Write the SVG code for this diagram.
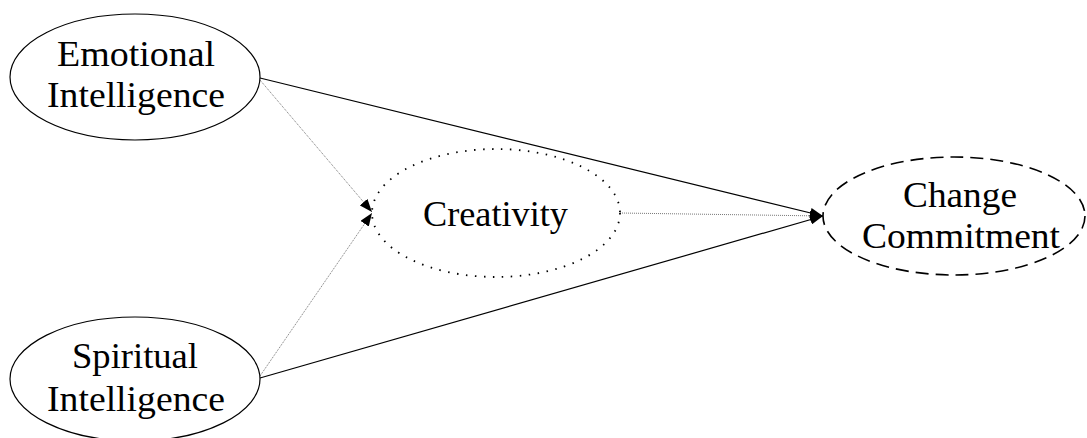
<svg xmlns="http://www.w3.org/2000/svg" width="1087" height="438" viewBox="0 0 1087 438">
<defs>
<style>
.lbl{font-family:"Liberation Serif","Times New Roman",serif;font-size:35px;fill:#000;text-anchor:middle}
.node{fill:#fff;stroke:#000}
.solid{stroke:#000;stroke-width:1.2;fill:none}
.thin{stroke:#777;stroke-width:1;stroke-dasharray:1 1;fill:none}
</style>
<marker id="arr" markerWidth="14" markerHeight="10" refX="13" refY="5" orient="auto" markerUnits="userSpaceOnUse">
<path d="M0,0 L13,5 L0,10 Z" fill="#000"/>
</marker>
</defs>
<rect width="1087" height="438" fill="#fff"/>
<g id="connectors">
<line class="solid" x1="260" y1="78" x2="823" y2="216" marker-end="url(#arr)"/>
<line class="solid" x1="260" y1="378" x2="823" y2="216" marker-end="url(#arr)"/>
<line class="thin" x1="260" y1="80" x2="372" y2="212" marker-end="url(#arr)"/>
<line class="thin" x1="260" y1="376" x2="372" y2="213" marker-end="url(#arr)"/>
<line class="thin" x1="620" y1="213" x2="823" y2="216" marker-end="url(#arr)"/>
</g>
<g id="emotional">
<ellipse class="node" cx="135" cy="77" rx="125" ry="63" stroke-width="1.2"/>
<text class="lbl" x="136" y="66" textLength="158" lengthAdjust="spacingAndGlyphs">Emotional</text>
<text class="lbl" x="136" y="107" textLength="178" lengthAdjust="spacingAndGlyphs">Intelligence</text>
</g>
<g id="spiritual">
<ellipse class="node" cx="135" cy="379" rx="125" ry="62" stroke-width="1.2"/>
<text class="lbl" x="135" y="368" textLength="126" lengthAdjust="spacingAndGlyphs">Spiritual</text>
<text class="lbl" x="136" y="411" textLength="178" lengthAdjust="spacingAndGlyphs">Intelligence</text>
</g>
<g id="creativity">
<ellipse class="node" cx="496" cy="213" rx="124" ry="64" stroke-width="1.8" stroke-dasharray="1.5 7.5"/>
<text class="lbl" x="495.5" y="226" textLength="145" lengthAdjust="spacingAndGlyphs">Creativity</text>
</g>
<g id="change">
<ellipse class="node" cx="954" cy="216" rx="131" ry="59" stroke-width="1.6" stroke-dasharray="13 7"/>
<text class="lbl" x="960" y="207" textLength="114" lengthAdjust="spacingAndGlyphs">Change</text>
<text class="lbl" x="961" y="248" textLength="198" lengthAdjust="spacingAndGlyphs">Commitment</text>
</g>
</svg>
